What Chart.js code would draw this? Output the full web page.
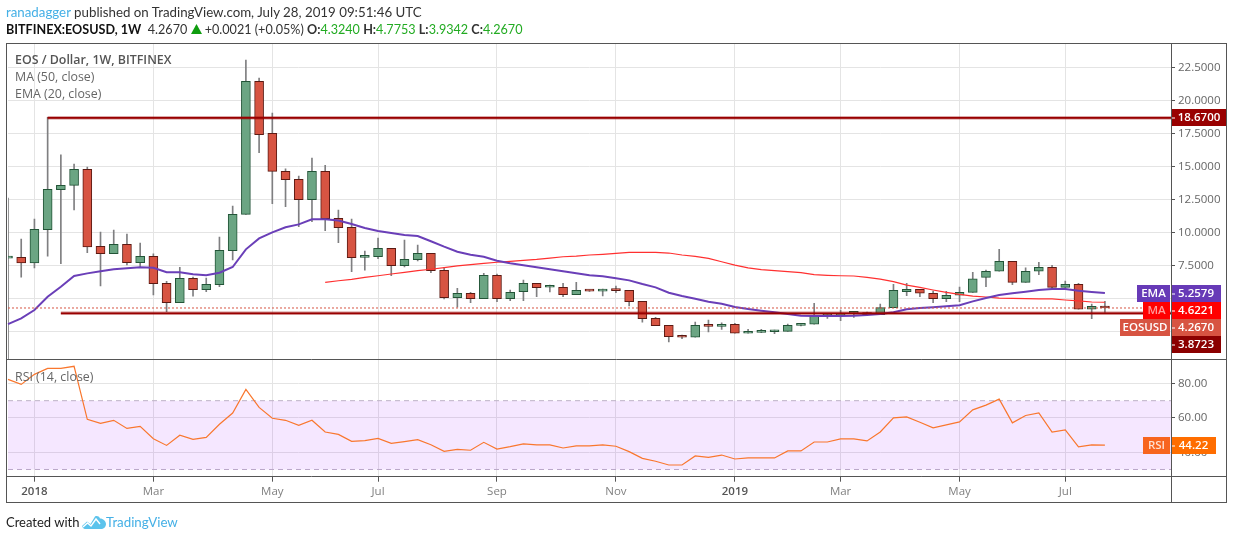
<!DOCTYPE html>
<html>
<head>
<meta charset="utf-8">
<title>EOSUSD</title>
<script src="https://cdn.jsdelivr.net/npm/chart.js@4"></script>
<style>
    html, body { margin: 0; padding: 0; background: #fff; width: 1234px; height: 540px; overflow: hidden; }
    canvas { position: absolute; left: 0; top: 0; }
    .txt { position: absolute; white-space: nowrap; font-family: Lato, sans-serif; font-size: 13px; line-height: 18px; color: #333; }
    .link { color: #45b0e6; }
    .up { color: #22ab22; }
    .leg { font-family: "Open Sans", sans-serif; color: #666; font-size: 12.4px; }
    b { font-weight: 700; }
</style>
</head>
<body>
<canvas id="eosChart" width="1234" height="540"></canvas>

<div class="txt" style="left:6px;top:3px;font-size:13.3px"><span class="link">ranadagger</span> published on TradingView.com, July 28, 2019 09:51:46 UTC</div>
<div class="txt" style="left:6px;top:21px;font-size:12.6px"><b style="color:#111">BITFINEX:EOSUSD, 1W</b>&nbsp; 4.2670 <svg width="11" height="10" viewBox="0 0 11 10"><path d="M5.5 0L11 10H0z" fill="#0f9d0f"/></svg> +0.0021 (+0.05%) <b>O:</b><span class="up">4.3240</span> <b>H:</b><span class="up">4.7753</span> <b>L:</b><span class="up">3.9342</span> <b>C:</b><span class="up">4.2670</span></div>

<div class="txt leg" style="left:15px;top:51px;font-weight:600;color:#555">EOS / Dollar, 1W, BITFINEX</div>
<div class="txt leg" style="left:15px;top:68px">MA (50, close)</div>
<div class="txt leg" style="left:15px;top:85px">EMA (20, close)</div>
<div class="txt leg" style="left:15px;top:368px">RSI (14, close)</div>

<div class="txt" style="left:6px;top:513px;color:#222">Created with</div>
<svg style="position:absolute;left:82px;top:515px" width="24" height="14" viewBox="0 0 24 14"><path d="M0 11L5 6.5L8.5 9L13 1.5C14.5 0.5 17 1 18 3.5C21 3.5 24 6 24 9C24 12 21.5 14 19 14H3C1.5 14 0.5 12.5 0 11Z" fill="#5cc3ec"/><path d="M1 12L5.5 8L9 11L14 4L18 9" fill="none" stroke="#fff" stroke-width="1.4"/></svg>
<div class="txt link" style="left:106px;top:513px;font-size:13.3px">TradingView</div>

<script>
/**
 * Weekly bars, first two are clipped by the left edge, last five are empty space
 **/
const categories = [
    "2017-12-18", "2017-12-25",
    "2018-01-01", "2018-01-08", "2018-01-15", "2018-01-22", "2018-01-29",
    "2018-02-05", "2018-02-12", "2018-02-19", "2018-02-26",
    "2018-03-05", "2018-03-12", "2018-03-19", "2018-03-26",
    "2018-04-02", "2018-04-09", "2018-04-16", "2018-04-23", "2018-04-30",
    "2018-05-07", "2018-05-14", "2018-05-21", "2018-05-28",
    "2018-06-04", "2018-06-11", "2018-06-18", "2018-06-25",
    "2018-07-02", "2018-07-09", "2018-07-16", "2018-07-23", "2018-07-30",
    "2018-08-06", "2018-08-13", "2018-08-20", "2018-08-27",
    "2018-09-03", "2018-09-10", "2018-09-17", "2018-09-24",
    "2018-10-01", "2018-10-08", "2018-10-15", "2018-10-22", "2018-10-29",
    "2018-11-05", "2018-11-12", "2018-11-19", "2018-11-26",
    "2018-12-03", "2018-12-10", "2018-12-17", "2018-12-24", "2018-12-31",
    "2019-01-07", "2019-01-14", "2019-01-21", "2019-01-28",
    "2019-02-04", "2019-02-11", "2019-02-18", "2019-02-25",
    "2019-03-04", "2019-03-11", "2019-03-18", "2019-03-25",
    "2019-04-01", "2019-04-08", "2019-04-15", "2019-04-22", "2019-04-29",
    "2019-05-06", "2019-05-13", "2019-05-20", "2019-05-27",
    "2019-06-03", "2019-06-10", "2019-06-17", "2019-06-24",
    "2019-07-01", "2019-07-08", "2019-07-15", "2019-07-22", "2019-07-29",
    "2019-08-05", "2019-08-12", "2019-08-19", "2019-08-26"
];

const timeLabels = {
    "2018-01-01": "2018", "2018-03-05": "Mar", "2018-05-07": "May", "2018-07-02": "Jul",
    "2018-09-03": "Sep", "2018-11-05": "Nov", "2019-01-07": "2019", "2019-03-04": "Mar",
    "2019-05-06": "May", "2019-07-01": "Jul"
};

const priceTicks = [22.5, 20, 17.5, 15, 12.5, 10, 7.5, 5, 2.5];
const rsiTicks = [80, 60, 40];

const opens = [
    8.05, 8.10, 7.69, 10.2, 13.23, 13.56, 14.77, 8.94, 8.38, 9.09,
    7.7, 8.18, 6.14, 4.67, 6.52, 5.65, 6.03, 8.6, 11.36, 21.44,
    17.5, 14.62, 14.02, 12.47, 14.62, 11.06, 10.38, 8.1, 8.15, 8.79,
    7.47, 7.92, 8.41, 7.12, 5.05, 5.38, 4.97, 6.74, 4.97, 5.5,
    6.14, 5.84, 5.84, 5.27, 5.6, 5.55, 5.62, 5.6, 4.77, 3.48,
    2.95, 2.11, 2.05, 2.95, 2.87, 3.03, 2.35, 2.42, 2.47, 2.5,
    2.95, 3.05, 3.68, 3.68, 3.86, 3.91, 3.76, 4.29, 5.5, 5.68,
    5.38, 4.97, 5.23, 5.45, 6.59, 7.05, 7.8, 6.21, 7.05, 7.35,
    5.83, 6.06, 4.17, 4.324
];
const closes = [
    8.09, 7.69, 10.23, 13.26, 13.56, 14.77, 8.9, 8.38, 9.09, 7.7,
    8.18, 6.11, 4.67, 6.52, 5.65, 6.06, 8.64, 11.36, 21.44, 17.39,
    14.62, 13.98, 12.47, 14.62, 11.03, 10.35, 8.08, 8.15, 8.79, 7.47,
    7.95, 8.41, 7.09, 5.05, 5.38, 4.97, 6.74, 4.97, 5.45, 6.14,
    5.8, 5.87, 5.27, 5.6, 5.55, 5.6, 5.58, 4.74, 3.45, 2.92,
    2.09, 2.05, 2.95, 2.87, 3.03, 2.35, 2.42, 2.5, 2.53, 2.95,
    3.03, 3.68, 3.7, 3.86, 3.91, 3.76, 4.29, 5.6, 5.68, 5.38,
    4.97, 5.23, 5.45, 6.48, 7.05, 7.8, 6.21, 7.05, 7.35, 5.83,
    6.06, 4.17, 4.39, 4.267
];
const highs = [
    12.6, 9.49, 11.0, 18.71, 15.86, 15.17, 14.95, 10.02, 10.17, 9.87,
    9.19, 8.36, 6.29, 7.35, 6.61, 6.54, 9.64, 11.99, 23.05, 21.69,
    19.04, 14.8, 14.26, 15.63, 15.07, 11.69, 11.0, 8.58, 9.57, 8.79,
    9.42, 9.04, 8.41, 7.32, 5.76, 5.45, 6.89, 6.84, 5.63, 6.39,
    6.14, 6.01, 6.14, 6.21, 5.62, 5.7, 5.93, 5.6, 4.77, 3.56,
    2.95, 2.22, 3.2, 3.36, 3.15, 3.1, 2.65, 2.65, 2.6, 3.05,
    3.1, 4.62, 3.86, 4.11, 4.0, 3.95, 4.57, 6.06, 6.14, 5.68,
    5.55, 5.53, 5.86, 6.97, 7.14, 8.71, 7.8, 7.3, 7.73, 7.5,
    6.31, 6.14, 4.57, 4.7753
];
const lows = [
    0, 6.61, 7.3, 8.2, 7.62, 11.69, 8.46, 5.93, 8.38, 7.52,
    7.39, 5.25, 3.98, 4.67, 5.17, 5.5, 5.88, 7.9, 11.36, 16.03,
    12.17, 11.94, 10.42, 10.8, 10.12, 9.21, 7.02, 7.14, 8.0, 6.71,
    7.37, 7.83, 6.94, 4.95, 4.32, 4.67, 4.97, 4.74, 4.82, 4.82,
    5.12, 5.48, 5.12, 5.27, 5.52, 5.18, 5.42, 4.42, 3.2, 2.92,
    1.69, 1.94, 2.05, 2.45, 2.65, 2.35, 2.35, 2.4, 2.32, 2.5,
    2.9, 3.05, 3.48, 3.3, 3.55, 3.7, 3.76, 4.29, 5.2, 5.12,
    4.67, 4.74, 4.74, 5.45, 5.88, 7.05, 6.03, 6.21, 6.79, 5.65,
    5.83, 4.17, 3.45, 3.9342
];

const ema20 = [
    3.05, 3.48, 4.11, 5.12, 5.88, 6.69, 6.89, 7.05, 7.2, 7.27,
    7.35, 7.32, 6.97, 6.97, 6.82, 6.74, 6.94, 7.37, 8.71, 9.54,
    10.0, 10.38, 10.6, 10.98, 10.98, 10.9, 10.63, 10.33, 10.1, 9.95,
    9.8, 9.72, 9.32, 8.91, 8.53, 8.3, 8.15, 7.85, 7.65, 7.5,
    7.35, 7.2, 7.05, 6.89, 6.74, 6.67, 6.52, 6.36, 6.08, 5.83,
    5.42, 5.17, 4.97, 4.74, 4.59, 4.34, 4.19, 4.06, 3.94, 3.81,
    3.68, 3.66, 3.66, 3.66, 3.68, 3.73, 3.81, 3.94, 4.17, 4.26,
    4.32, 4.39, 4.47, 4.77, 5.02, 5.25, 5.38, 5.5, 5.63, 5.7,
    5.7, 5.58, 5.48, 5.4
];
const ma50 = [
    null, null, null, null, null, null, null, null, null, null,
    null, null, null, null, null, null, null, null, null, null,
    null, null, null, null, 6.21, 6.33, 6.44, 6.58, 6.71, 6.84,
    6.97, 7.09, 7.2, 7.32, 7.45, 7.55, 7.65, 7.73, 7.8, 7.88,
    7.95, 8.05, 8.15, 8.2, 8.28, 8.33, 8.4, 8.48, 8.48, 8.48,
    8.43, 8.28, 8.18, 8.03, 7.77, 7.52, 7.3, 7.17, 7.09, 7.02,
    6.94, 6.79, 6.74, 6.71, 6.69, 6.59, 6.46, 6.26, 6.0, 5.83,
    5.63, 5.45, 5.3, 5.17, 5.1, 5.02, 5.0, 4.97, 4.95, 4.95,
    4.87, 4.8, 4.72, 4.7
];
const rsi14 = [
    82.4, 79.5, 85.3, 88.8, 88.8, 90, 59.2, 56.8, 58.6, 53.9,
    55.1, 47.9, 44, 49.9, 47.5, 48.7, 56.3, 62.8, 76.6, 66.1,
    59.8, 58.6, 55.7, 58.6, 51.8, 50.4, 46.4, 46.8, 48.1, 45.2,
    46.2, 47.3, 44.4, 40.6, 41.7, 41.2, 45.8, 41.9, 43.3, 44.9,
    44.3, 44.3, 42.5, 43.7, 43.7, 44.3, 43.5, 40.4, 36.5, 34.8,
    32.6, 32.6, 37.9, 37.1, 38.4, 36.1, 36.7, 36.7, 36.7, 40.8,
    40.8, 46, 46, 47.8, 47.8, 46.6, 51.8, 60, 60.6, 57.5,
    54.2, 55.9, 57.7, 64.7, 67.4, 70.9, 57.1, 61.4, 62.9, 51.8,
    53, 43.1, 44.3, 44.22
];

const resistance = 18.67;
const resistanceFrom = "2018-01-08";
const support = 3.8723;
const supportFrom = "2018-01-15";
const lastPrice = 4.267;
const rsiUpper = 70;
const rsiLower = 30;

const endWeek = categories[categories.length - 1];
const fontName = "'Open Sans', sans-serif";

// a level drawn between two weeks, line scale joins the two points
function levelLine(from, value) {
    return [{x: from, y: value}, {x: endWeek, y: value}];
}

function levelDataset(from, value, color, width, dash) {
    return {
        type: "line",
        data: levelLine(from, value),
        yAxisID: "y",
        borderColor: color,
        borderWidth: width,
        borderDash: dash || [],
        pointRadius: 0,
        order: 1
    };
}

function bodyColor(ctx, up, down) {
    return closes[ctx.dataIndex] >= opens[ctx.dataIndex] ? up : down;
}

// frame and the tags on the price scale, TradingView draws those over everything
const priceTags = {
    id: "priceTags",
    afterDraw(chart) {
        const c = chart.ctx;

        function tag(x1, x2, yMid, bg, text, fg, bold) {
            c.fillStyle = bg;
            c.fillRect(x1, yMid - 8.5, x2 - x1, 17);
            c.fillStyle = fg;
            c.font = (bold ? "600 " : "") + "11.5px " + fontName;
            c.textAlign = "center";
            c.textBaseline = "middle";
            c.fillText(text, (x1 + x2) / 2, yMid);
            if (x1 >= 1171) {
                c.fillStyle = "#fff";
                c.fillRect(1171, yMid, 4, 1);
            }
        }

        tag(1171, 1227, 117.5, "#990000", resistance.toFixed(4), "#fff", true);
        tag(1137, 1170, 293.5, "#673ab7", "EMA", "#fff", true);
        tag(1171, 1221, 293.5, "#673ab7", "5.2579", "#fff", true);
        tag(1143, 1170, 310.5, "#ff0000", "MA", "#ff9a9a", true);
        tag(1171, 1221, 310.5, "#ff0000", "4.6221", "#fff", true);
        tag(1120, 1170, 327.5, "#d75442", "EOSUSD", "#fff", true);
        tag(1171, 1221, 327.5, "#d75442", lastPrice.toFixed(4), "#fff", true);
        tag(1171, 1221, 344.5, "#8b0000", support.toFixed(4), "#fff", true);
        tag(1143, 1170, 445.5, "#f7651e", "RSI", "#ffe0d0", true);
        tag(1171, 1216, 445.5, "#ff6d00", "44.22", "#fff", true);

        c.strokeStyle = "#555";
        c.lineWidth = 1;
        c.strokeRect(6.5, 43.5, 1220, 459);
        c.beginPath();
        c.moveTo(1171.5, 43.5);
        c.lineTo(1171.5, 503);
        c.moveTo(6.5, 359.5);
        c.lineTo(1227, 359.5);
        c.moveTo(6.5, 476.5);
        c.lineTo(1227, 476.5);
        c.stroke();
    }
};

new Chart(document.getElementById("eosChart"), {
    data: {
        labels: categories,
        datasets: [
            {
                type: "bar",
                data: lows.map((low, i) => [low, highs[i]]),
                yAxisID: "y",
                grouped: false,
                barThickness: 1,
                backgroundColor: "#7f7f81",
                order: 5
            },
            {
                type: "bar",
                data: opens.map((open, i) => [open, closes[i]]),
                yAxisID: "y",
                grouped: false,
                barThickness: 9,
                minBarLength: 2,
                borderWidth: 1,
                borderSkipped: false,
                backgroundColor: ctx => bodyColor(ctx, "#6ba583", "#d75442"),
                borderColor: ctx => bodyColor(ctx, "#225437", "#5b1a13"),
                order: 4
            },
            {
                type: "line",
                data: ma50,
                yAxisID: "y",
                borderColor: "#ff3030",
                borderWidth: 1.2,
                pointRadius: 0,
                order: 3
            },
            {
                type: "line",
                data: ema20,
                yAxisID: "y",
                borderColor: "#6a3fb8",
                borderWidth: 2,
                pointRadius: 0,
                order: 2
            },
            levelDataset(categories[0], lastPrice, "#d75442", 1, [2, 2]),
            levelDataset(resistanceFrom, resistance, "rgba(153,0,0,0.45)", 3.4),
            levelDataset(resistanceFrom, resistance, "#990000", 1.6),
            levelDataset(supportFrom, support, "rgba(153,0,0,0.45)", 3.4),
            levelDataset(supportFrom, support, "#990000", 1.6),
            {
                type: "line",
                data: levelLine(categories[0], rsiUpper),
                yAxisID: "yRsi",
                borderColor: "#bdb0c6",
                borderWidth: 1,
                borderDash: [5, 4],
                pointRadius: 0,
                fill: "+1",
                backgroundColor: "rgba(153,21,255,0.1)",
                order: 6
            },
            {
                type: "line",
                data: levelLine(categories[0], rsiLower),
                yAxisID: "yRsi",
                borderColor: "#bdb0c6",
                borderWidth: 1,
                borderDash: [5, 4],
                pointRadius: 0,
                order: 6
            },
            {
                type: "line",
                data: rsi14,
                yAxisID: "yRsi",
                borderColor: "#f9772e",
                borderWidth: 1.2,
                pointRadius: 0,
                order: 1
            }
        ]
    },
    options: {
        responsive: false,
        animation: false,
        devicePixelRatio: 1,
        layout: {padding: {left: 8, top: 43, right: 7, bottom: 37}},
        plugins: {legend: {display: false}, tooltip: {enabled: false}},
        scales: {
            x: {
                type: "category",
                offset: false,
                grid: {offset: false, color: "#e4e4e4", tickColor: "#555", tickLength: 5},
                border: {display: false},
                ticks: {
                    autoSkip: false,
                    maxRotation: 0,
                    padding: 3,
                    callback: function (value) {
                        return timeLabels[this.getLabelForValue(value)] || null;
                    },
                    color: ctx => /^\d/.test(ctx.tick.label) ? "#555" : "#808080",
                    font: ctx => ({family: fontName, size: 11.5, weight: /^\d/.test(ctx.tick.label) ? "600" : "400"})
                },
                afterFit: scale => { scale.height = 26.3; }
            },
            y: {
                position: "right",
                stack: "panes",
                stackWeight: 316.3,
                min: 0.38,
                max: 24.34,
                grid: {color: "#e4e4e4", tickColor: "#555", tickLength: 4},
                border: {display: false},
                afterBuildTicks: scale => { scale.ticks = priceTicks.map(v => ({value: v})); },
                ticks: {
                    padding: 3,
                    color: "#666",
                    font: {family: fontName, size: 11.5},
                    callback: value => value.toFixed(4)
                },
                afterFit: scale => { scale.width = 56; }
            },
            yRsi: {
                position: "right",
                stack: "panes",
                stackWeight: 117.4,
                min: 25.81,
                max: 94.07,
                grid: {color: "#e4e4e4", tickColor: "#555", tickLength: 4},
                border: {display: false},
                afterBuildTicks: scale => { scale.ticks = rsiTicks.map(v => ({value: v})); },
                ticks: {
                    padding: 3,
                    color: "#666",
                    font: {family: fontName, size: 11.5},
                    callback: value => value.toFixed(2)
                },
                afterFit: scale => { scale.width = 56; }
            }
        }
    },
    plugins: [priceTags]
});
</script>
</body>
</html>
